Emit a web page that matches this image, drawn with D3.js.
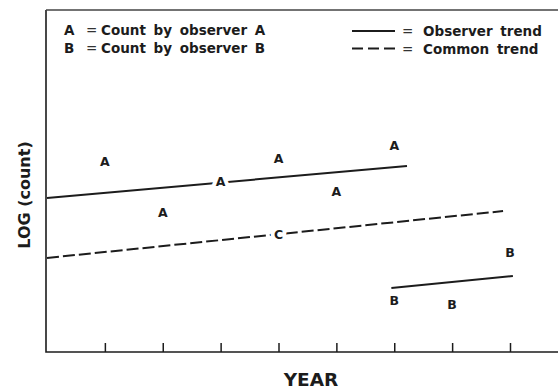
<!DOCTYPE html>
<html>
<head>
<meta charset="utf-8">
<script src="https://cdn.jsdelivr.net/npm/d3@7"></script>
<style>
  html, body { margin: 0; padding: 0; background: #fff; }
  svg { display: block; }
  text { font-family: "DejaVu Sans", "Liberation Sans", Arial, sans-serif; font-weight: bold; fill: #1c1c1c; }
  text.eq { font-weight: normal; fill: #333; }
</style>
</head>
<body>
<svg id="chart" width="558" height="389"></svg>
<script>
// Yearly log counts by observer A and observer B
const yearsA = [1, 2, 3, 4, 5, 6];
const countsA = [5.56, 4.09, 5.0, 5.67, 4.68, 6.05];
const yearsB = [6, 7, 8];
const countsB = [1.52, 1.40, 2.92];

// Fitted trends: [year, log count] end points
const trendA = [[0, 4.50], [6.22, 5.44]];
const trendB = [[5.95, 1.87], [8.05, 2.22]];
const trendCommon = [[0, 2.75], [7.88, 4.12]];
const commonMark = { year: 4, value: 3.45, label: "C" };

const xTicks = [1, 2, 3, 4, 5, 6, 7, 8];

const legendSymbols = [
  { key: "A", text: "Count by observer A" },
  { key: "B", text: "Count by observer B" }
];
const legendLines = [
  { text: "Observer trend", dash: null },
  { text: "Common trend", dash: "11,5" }
];

const svg = d3.select("#chart");
const ink = "#1c1c1c";

const x = d3.scaleLinear().domain([0, 8]).range([47, 510]);
const y = d3.scaleLinear().domain([0, 10]).range([352, 10]);

// Frame: left and bottom axes plus the top border running off to the right
svg.append("path")
  .attr("d", `M${x(0) - 1},${y(10)} L${x(0) - 1},${y(0)} L565,${y(0)}`)
  .attr("fill", "none").attr("stroke", ink).attr("stroke-width", 1.6);
svg.append("line")
  .attr("x1", x(0) - 1).attr("x2", 565).attr("y1", y(10)).attr("y2", y(10))
  .attr("stroke", "#444").attr("stroke-width", 1.3);

// Year ticks pointing up from the axis
const xAxis = d3.axisBottom(x).tickValues(xTicks).tickSize(-9).tickFormat("");
const gx = svg.append("g").attr("transform", `translate(0,${y(0)})`).call(xAxis);
gx.select(".domain").remove();
gx.selectAll(".tick line").attr("stroke", ink).attr("stroke-width", 1.5);

// Trend lines
const line = d3.line().x(d => x(d[0])).y(d => y(d[1]));
svg.append("path").attr("d", line(trendA))
  .attr("fill", "none").attr("stroke", ink).attr("stroke-width", 2);
svg.append("path").attr("d", line(trendB))
  .attr("fill", "none").attr("stroke", ink).attr("stroke-width", 2);
svg.append("path").attr("d", line(trendCommon))
  .attr("fill", "none").attr("stroke", ink).attr("stroke-width", 2)
  .attr("stroke-dasharray", "12,4");

// Observation letters, with a white halo so they break the lines they sit on
function letters(xs, vs, label) {
  svg.append("g").selectAll("text")
    .data(xs.map((d, i) => ({ year: d, value: vs[i] })))
    .join("text")
    .attr("x", d => x(d.year))
    .attr("y", d => y(d.value))
    .attr("text-anchor", "middle")
    .attr("dominant-baseline", "central")
    .attr("font-size", 12.5)
    .attr("stroke", "#fff").attr("stroke-width", 8)
    .attr("stroke-linejoin", "round")
    .attr("paint-order", "stroke")
    .text(label);
}
letters(yearsA, countsA, "A");
letters(yearsB, countsB, "B");
letters([commonMark.year], [commonMark.value], commonMark.label);

// Legend text style
function legendType(sel) {
  return sel.attr("font-size", 13.5).attr("word-spacing", 3);
}

// Legend: symbol key on the left
const ls = svg.append("g").selectAll("g")
  .data(legendSymbols)
  .join("g")
  .attr("transform", (d, i) => `translate(0,${35 + i * 18})`);
ls.append("text").attr("x", 64).call(legendType).text(d => d.key);
ls.append("text").attr("class", "eq").attr("x", 86).call(legendType).text("=");
ls.append("text").attr("x", 101).call(legendType).text(d => d.text);

// Legend: line key on the right
const lg = svg.append("g").selectAll("g")
  .data(legendLines)
  .join("g")
  .attr("transform", (d, i) => `translate(0,${31 + i * 17.5})`);
lg.append("line")
  .attr("x1", 352).attr("x2", 395).attr("y1", 0).attr("y2", 0)
  .attr("stroke", ink).attr("stroke-width", 2)
  .attr("stroke-dasharray", d => d.dash);
lg.append("text").attr("class", "eq").attr("x", 402).attr("y", 5).call(legendType).text("=");
lg.append("text").attr("x", 423).attr("y", 5).call(legendType).text(d => d.text);

// Axis titles
svg.append("text")
  .attr("x", 311).attr("y", 386)
  .attr("text-anchor", "middle")
  .attr("font-size", 18.5)
  .text("YEAR");
svg.append("text")
  .attr("transform", "translate(30,195) rotate(-90)")
  .attr("text-anchor", "middle")
  .attr("font-size", 16)
  .text("LOG (count)");
</script>
</body>
</html>
